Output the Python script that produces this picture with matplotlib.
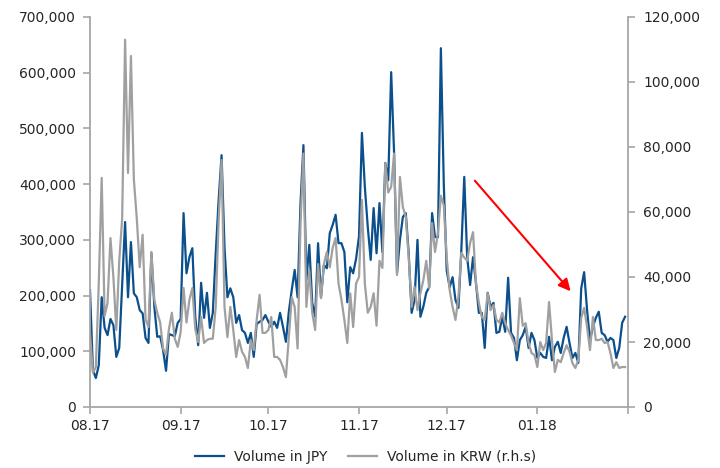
import numpy as np
import pandas as pd
import matplotlib
matplotlib.use("Agg")
import matplotlib.pyplot as plt
import matplotlib.dates as mdates
from matplotlib.ticker import FuncFormatter, MultipleLocator

# daily volumes, Aug 2017 - Jan 2018 (thousands)
dates = pd.date_range("2017-08-01", periods=184, freq="D")

jpy_k = [
    210, 66, 52, 75, 197, 142, 129, 158, 147, 90, 106, 220, 332, 197, 296, 204, 197, 174, 168, 124,
    115, 276, 180, 126, 127, 102, 65, 131, 129, 127, 151, 158, 348,
    240, 269, 285, 162, 111, 223, 160, 205, 142, 169, 276, 372, 452, 287, 197, 213, 197, 151, 165,
    138, 133, 115, 133, 90, 149, 153, 156, 165, 153, 144,
    153, 142, 169, 144, 117, 171, 210, 246, 197, 366, 470, 228, 291, 187, 162, 294, 197, 255, 249,
    312, 327, 345, 294, 294, 278, 188, 251, 240, 266, 306, 492,
    395, 323, 264, 357, 276, 366, 278, 438, 407, 601, 456, 240, 300, 341, 348, 276, 169, 192, 300,
    162, 180, 205, 215, 348, 305, 305, 644, 400,
    245, 215, 233, 192, 178, 282, 413, 269, 219, 269, 223, 169, 169, 106, 205, 180, 187, 133, 135,
    162, 135, 232, 133, 124, 84, 120, 129, 144, 106, 133, 120, 88, 97,
    90, 88, 126, 84, 108, 117, 97, 124, 144, 115, 88, 97, 79, 213, 242, 174, 120, 144, 160, 171,
    133, 129, 117, 124, 120, 88, 106, 151, 162,
]

krw_k = [
    23, 10.5, 12.3, 38, 70.5, 28, 32, 52, 40, 23.7, 45, 58, 113, 72, 108, 70, 58, 43, 53, 27,
    24.6, 47.7, 33, 29, 26, 18, 16, 24, 29, 21, 18.5, 23, 36.6,
    26, 33, 36.6, 24, 20, 27.7, 19.7, 20.6, 21, 21, 30.8, 57.5, 76, 30.8, 21.5, 30.8, 23.7, 15.4,
    20.6, 17, 15.4, 12, 20.6, 17.5, 26.8, 34.5, 22.8, 22.8, 23.7, 27.7,
    15.4, 15.4, 14.5, 12.3, 9.2, 21.5, 33.8, 30.8, 18, 56.6, 78, 30.8, 42, 29, 23.7, 44, 33.5, 44,
    47.7, 43, 49, 52, 38, 33, 26.8, 19.7, 35, 24.6, 38, 40, 63.7,
    38, 29, 30.8, 35, 25, 45, 42.8, 75, 66, 67.7, 78, 40.6, 70.8, 61.5, 58.5, 46, 30.8, 37, 29.8,
    35, 39, 45, 36.6, 56.6, 47.7, 53.5, 65, 62,
    46, 36, 30.8, 26.8, 33.8, 47.4, 46, 45, 50.5, 53.8, 38, 32, 27.7, 26.8, 35, 29.8, 31.4, 26.8,
    26, 29, 25.8, 23.7, 22, 19.7, 17.5, 33.5, 25, 25.8, 19.7, 16.6, 16, 12.3, 20,
    17.5, 19.7, 32.3, 20.6, 10.8, 14.5, 13.8, 16.6, 19, 17, 13.5, 12, 14.5, 27.4, 30.5, 24.6, 17.5,
    27.7, 20.6, 20.6, 21, 19.7, 20, 16.6, 12, 13.8, 12, 12.3, 12.3,
]

jpy = np.array(jpy_k) * 1000
krw = np.array(krw_k) * 1000

# red trend arrow (start / end on the JPY axis)
arrow_start = (pd.Timestamp("2017-12-10"), 410000)
arrow_end = (pd.Timestamp("2018-01-13"), 204000)

blue = "#0b4f8c"
grey = "#a0a0a0"
axis_col = "#a6a6a6"
text_col = "#262626"

plt.rcParams["font.family"] = "DejaVu Sans"
plt.rcParams["font.size"] = 10

fig = plt.figure(figsize=(7.2, 4.68), dpi=100)
ax = fig.add_axes([90 / 720, 1 - 407 / 468, (628 - 90) / 720, (407 - 17) / 468])
ax2 = ax.twinx()

ax.plot(dates, jpy, color=blue, lw=1.6, label="Volume in JPY")
ax2.plot(dates, krw, color=grey, lw=1.6, label="Volume in KRW (r.h.s)")

ax.set_ylim(0, 700000)
ax2.set_ylim(0, 120000)
ax.yaxis.set_major_locator(MultipleLocator(100000))
ax2.yaxis.set_major_locator(MultipleLocator(20000))
fmt = FuncFormatter(lambda v, p: f"{int(v):,}")
ax.yaxis.set_major_formatter(fmt)
ax2.yaxis.set_major_formatter(fmt)

ax.set_xlim(dates[0], dates[-1] + pd.Timedelta(days=1))
ax.xaxis.set_major_locator(mdates.MonthLocator())
last = mdates.date2num(pd.Timestamp("2018-02-01"))
ax.xaxis.set_major_formatter(
    FuncFormatter(lambda v, p: "" if v >= last - 0.5 else mdates.num2date(v).strftime("%m.%y")))

for a in (ax, ax2):
    a.spines["top"].set_visible(False)
    for s in a.spines.values():
        s.set_color(axis_col)
        s.set_linewidth(1.3)
    a.tick_params(colors=axis_col, labelcolor=text_col, length=5, width=1.2, labelsize=10)
ax.spines["right"].set_visible(False)
ax2.spines["left"].set_visible(False)
ax2.spines["bottom"].set_visible(False)
ax.tick_params(axis="y", pad=5)
ax2.tick_params(axis="y", pad=6)
ax.tick_params(axis="x", pad=4)

ax.annotate("", xy=arrow_end, xytext=arrow_start,
            arrowprops=dict(arrowstyle="-|>", color="red", lw=1.5, mutation_scale=18))

h1, l1 = ax.get_legend_handles_labels()
h2, l2 = ax2.get_legend_handles_labels()
fig.legend(h1 + h2, l1 + l2, loc="center", bbox_to_anchor=(0.508, 0.024), ncol=2,
           frameon=False, handlelength=2.1, handletextpad=0.7, columnspacing=1.5,
           labelcolor=text_col)

fig.savefig("out.png", dpi=100)
